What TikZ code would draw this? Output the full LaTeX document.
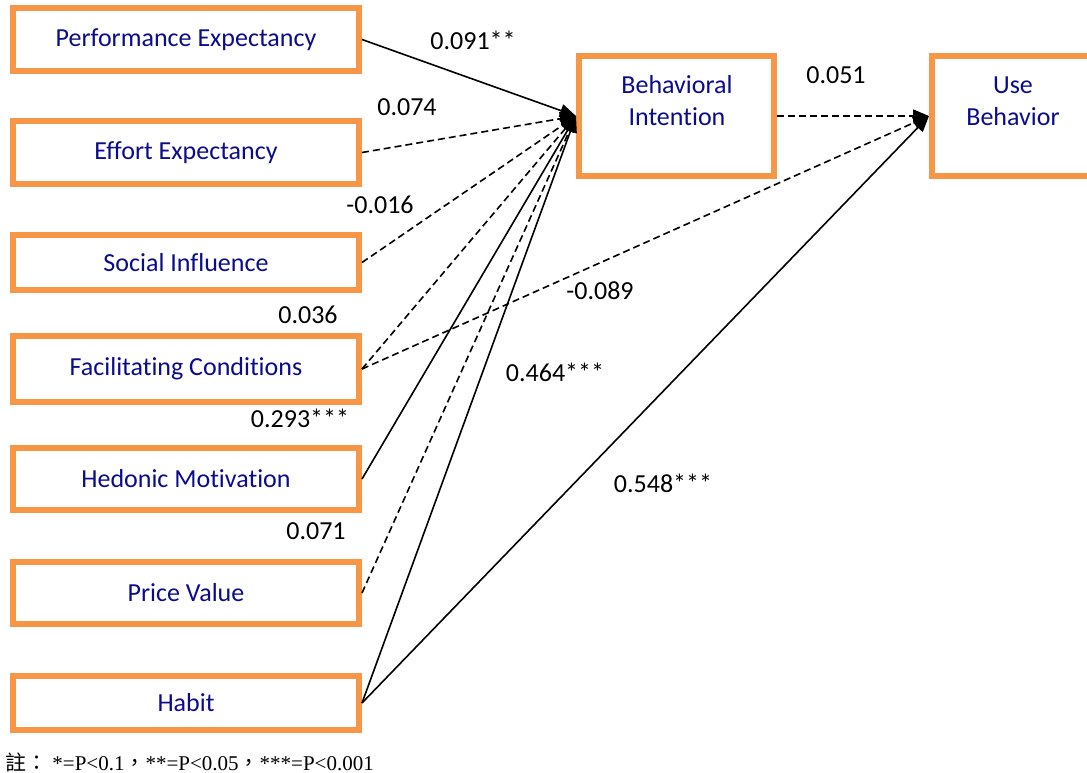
\documentclass[tikz,border=0pt]{standalone}
\usepackage{fontspec}
\setmainfont{Carlito}[Ligatures=NoCommon]
\newfontfamily\notefont{Liberation Serif}
\newfontfamily\cjkfont{Noto Sans CJK TC}
\usetikzlibrary{arrows.meta}
\definecolor{frame}{HTML}{F79646}
\definecolor{navy}{HTML}{0C0C8A}

\begin{document}
\begin{tikzpicture}[x=1pt,y=-1pt,
    every node/.style={font=\fontsize{26}{32}\selectfont},
    construct/.style={draw=frame,line width=6pt,fill=white,text=navy,minimum width=346pt,minimum height=62pt,inner sep=0pt},
    outcome/.style={draw=frame,line width=6pt,fill=white,minimum height=120pt,inner sep=0pt},
    caption/.style={text=navy,align=center},
    coef/.style={inner sep=0pt},
    sig/.style={-{Triangle[length=16pt,width=13pt]},line width=1.6pt},
    nonsig/.style={sig,dash pattern=on 7pt off 4pt}]
  \useasboundingbox (0,0) rectangle (1087,773);
  \clip (0,0) rectangle (1087,773);
  % exogenous constructs
  \node[construct,minimum height=63pt] (pe) at (186,39.5) {Performance Expectancy};
  \node[construct,minimum height=63pt] (ee) at (186,152.5) {Effort Expectancy};
  \node[construct,minimum height=55pt] (si) at (186,262.5) {Social Influence};
  \node[construct,minimum height=66pt] (fc) at (186,369) {Facilitating Conditions};
  \node[construct] (hm) at (186,479) {Hedonic Motivation};
  \node[construct] (pv) at (186,593) {Price Value};
  \node[construct,minimum height=54pt] (hb) at (186,703) {Habit};
  % endogenous constructs
  \node[outcome,minimum width=195pt] (bi) at (676.5,116) {};
  \node[caption] (bitext) at (677,101) {Behavioral\\Intention};
  \node[outcome,minimum width=162pt] (ub) at (1013,116) {};
  \node[caption] (ubtext) at (1013,101) {Use\\Behavior};
  % paths
  \draw[sig] (pe.east) -- (bi.west);
  \draw[nonsig] (ee.east) -- (bi.west);
  \draw[nonsig] (si.east) -- (bi.west);
  \draw[nonsig] (fc.east) -- (bi.west);
  \draw[nonsig] (fc.east) -- (ub.west);
  \draw[sig] (hm.east) -- (bi.west);
  \draw[nonsig] (pv.east) -- (bi.west);
  \draw[sig] (hb.east) -- (bi.west);
  \draw[sig] (hb.east) -- (ub.west);
  \draw[nonsig] (bi.east) -- (ub.west);
  % coefficients
  \node[coef] (cpe) at (473,40) {0.091**};
  \node[coef] (cee) at (407,107) {0.074};
  \node[coef] (csi) at (380,205) {-0.016};
  \node[coef] (cfc) at (308,315) {0.036};
  \node[coef] (cfu) at (600,291) {-0.089};
  \node[coef] (chm) at (300,418) {0.293***};
  \node[coef] (cpv) at (316,531) {0.071};
  \node[coef] (chb) at (555,372) {0.464***};
  \node[coef] (chu) at (663,483) {0.548***};
  \node[coef] (cbi) at (836,75) {0.051};
  \node[anchor=west,inner sep=0pt,font=\fontsize{21}{23}\selectfont\notefont] (note) at (5,762)
    {{\cjkfont 註：} *=P<0.1{\cjkfont ，}**=P<0.05{\cjkfont ，}***=P<0.001};
\end{tikzpicture}
\end{document}
